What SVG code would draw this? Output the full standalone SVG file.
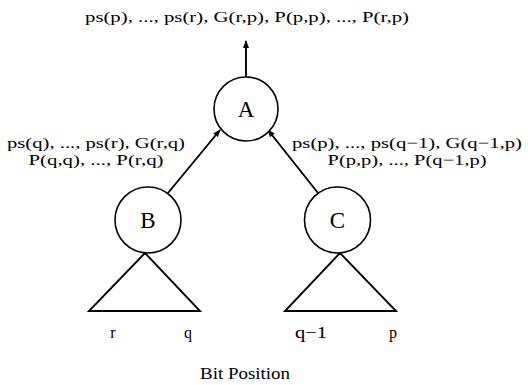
<svg xmlns="http://www.w3.org/2000/svg" width="528" height="385" viewBox="0 0 528 385">
<style>
.c{fill:#fff;stroke:#000;stroke-width:1.6}
.t{font-family:"Liberation Serif",serif;font-size:15px;fill:#000}
.b{font-family:"Liberation Serif",serif;font-size:16px;fill:#000;text-anchor:middle}
.n{font-family:"Liberation Serif",serif;font-size:23px;fill:#000;text-anchor:middle}
.e{stroke:#000;stroke-width:1.9;fill:none}
</style>
<defs>
<marker id="ah" markerWidth="8" markerHeight="8" refX="7" refY="4" orient="auto" markerUnits="userSpaceOnUse">
<path d="M0,1 L8,4 L0,7 Z" fill="#000"/>
</marker>
</defs>
<g id="connectors">
<line class="e" x1="246" y1="77" x2="246" y2="41" marker-end="url(#ah)"/>
<line class="e" x1="168" y1="193" x2="220" y2="130" marker-end="url(#ah)"/>
<line class="e" x1="318" y1="193" x2="268" y2="130" marker-end="url(#ah)"/>
</g>
<g id="nodeA">
<circle class="c" cx="246" cy="109" r="32"/>
<text class="n" x="246" y="117">A</text>
</g>
<g id="nodeB">
<circle class="c" cx="148" cy="220" r="33"/>
<text class="n" x="148" y="228">B</text>
</g>
<g id="nodeC">
<circle class="c" cx="337.5" cy="220" r="33"/>
<text class="n" x="337.5" y="228">C</text>
</g>
<g id="treeB">
<path class="e" d="M145,253 L89,311 L200,311 Z"/>
</g>
<g id="treeC">
<path class="e" d="M340,253 L285,311 L396,311 Z"/>
</g>
<g id="labels">
<text class="t" x="247" y="22" text-anchor="middle" textLength="324" lengthAdjust="spacingAndGlyphs">ps(p), ..., ps(r), G(r,p), P(p,p), ..., P(r,p)</text>
<text class="t" x="96" y="148" text-anchor="middle" textLength="178" lengthAdjust="spacingAndGlyphs">ps(q), ..., ps(r), G(r,q)</text>
<text class="t" x="96" y="165" text-anchor="middle" textLength="135" lengthAdjust="spacingAndGlyphs">P(q,q), ..., P(r,q)</text>
<text class="t" x="407" y="148" text-anchor="middle" textLength="230" lengthAdjust="spacingAndGlyphs">ps(p), ..., ps(q−1), G(q−1,p)</text>
<text class="t" x="407" y="165" text-anchor="middle" textLength="159" lengthAdjust="spacingAndGlyphs">P(p,p), ..., P(q−1,p)</text>
<text class="b" x="113" y="338">r</text>
<text class="b" x="188" y="338">q</text>
<text class="b" x="311" y="338" textLength="32" lengthAdjust="spacingAndGlyphs">q−1</text>
<text class="b" x="393" y="338">p</text>
<text class="b" x="245" y="379" textLength="90" lengthAdjust="spacingAndGlyphs">Bit Position</text>
</g>
</svg>
